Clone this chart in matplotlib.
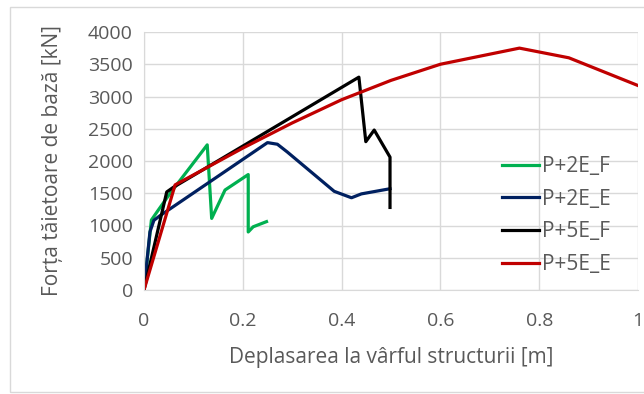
import numpy as np
import matplotlib.pyplot as plt
from matplotlib.patches import Rectangle

plt.rcParams['font.family'] = ['Open Sans', 'DejaVu Sans']

# P+2E_F
x_2f = [0, 0.015, 0.029, 0.053, 0.128, 0.137, 0.164, 0.211, 0.211, 0.221, 0.248]
y_2f = [0, 1085, 1240, 1500, 2250, 1110, 1550, 1790, 900, 980, 1060]
# P+2E_E
x_2e = [0, 0.012, 0.02, 0.032, 0.25, 0.27, 0.29, 0.385, 0.42, 0.44, 0.498]
y_2e = [0, 900, 1080, 1150, 2285, 2260, 2140, 1530, 1430, 1490, 1570]
# P+5E_F
x_5f = [0, 0.046, 0.059, 0.435, 0.449, 0.466, 0.498, 0.498]
y_5f = [0, 1520, 1590, 3300, 2300, 2480, 2060, 1280]
# P+5E_E
x_5e = [0, 0.063, 0.2, 0.3, 0.4, 0.5, 0.6, 0.76, 0.86, 1.0]
y_5e = [0, 1630, 2200, 2590, 2950, 3250, 3500, 3750, 3600, 3170]

fig = plt.figure(figsize=(6.44, 3.94), dpi=100)
ax = fig.add_axes([144/644, 1-290/394, 494/644, 258/394])

ax.plot(x_2f, y_2f, color='#00b050', lw=2.3, label='P+2E_F')
ax.plot(x_2e, y_2e, color='#002060', lw=2.3, label='P+2E_E')
ax.plot(x_5f, y_5f, color='#000000', lw=2.3, label='P+5E_F')
ax.plot(x_5e, y_5e, color='#c00000', lw=2.3, label='P+5E_E')

ax.set_xlim(0, 1)
ax.set_ylim(0, 4000)
ax.set_xticks(np.arange(0, 1.01, 0.2))
ax.set_xticklabels(['0', '0.2', '0.4', '0.6', '0.8', '1'])
ax.set_yticks(np.arange(0, 4001, 500))
ax.grid(True, color='#d9d9d9', lw=1)
ax.set_axisbelow(True)
for s in ['top', 'right']:
    ax.spines[s].set_visible(False)
for s in ['left', 'bottom']:
    ax.spines[s].set_color('#d9d9d9')
ax.tick_params(axis='y', length=0, labelsize=14, colors='#595959', pad=8)
ax.tick_params(axis='x', length=0, labelsize=14, colors='#595959', pad=16)
ax.set_xlabel('Deplasarea la vârful structurii [m]', fontsize=15, color='#595959', labelpad=12)
ax.set_ylabel('Forța tăietoare de bază [kN]', fontsize=15, color='#595959', labelpad=18)

leg = ax.legend(loc='upper left', bbox_to_anchor=(0.725, 0.52), frameon=False,
                fontsize=15, handlelength=1.78, handletextpad=0.12, labelspacing=0.56,
                borderpad=0, borderaxespad=0, labelcolor='#595959')

fig.patches.append(Rectangle((10/644, 2/394), 1.0, 385/394, transform=fig.transFigure,
                             fill=False, edgecolor='#d9d9d9', lw=1))

fig.savefig('out.png', dpi=100)
